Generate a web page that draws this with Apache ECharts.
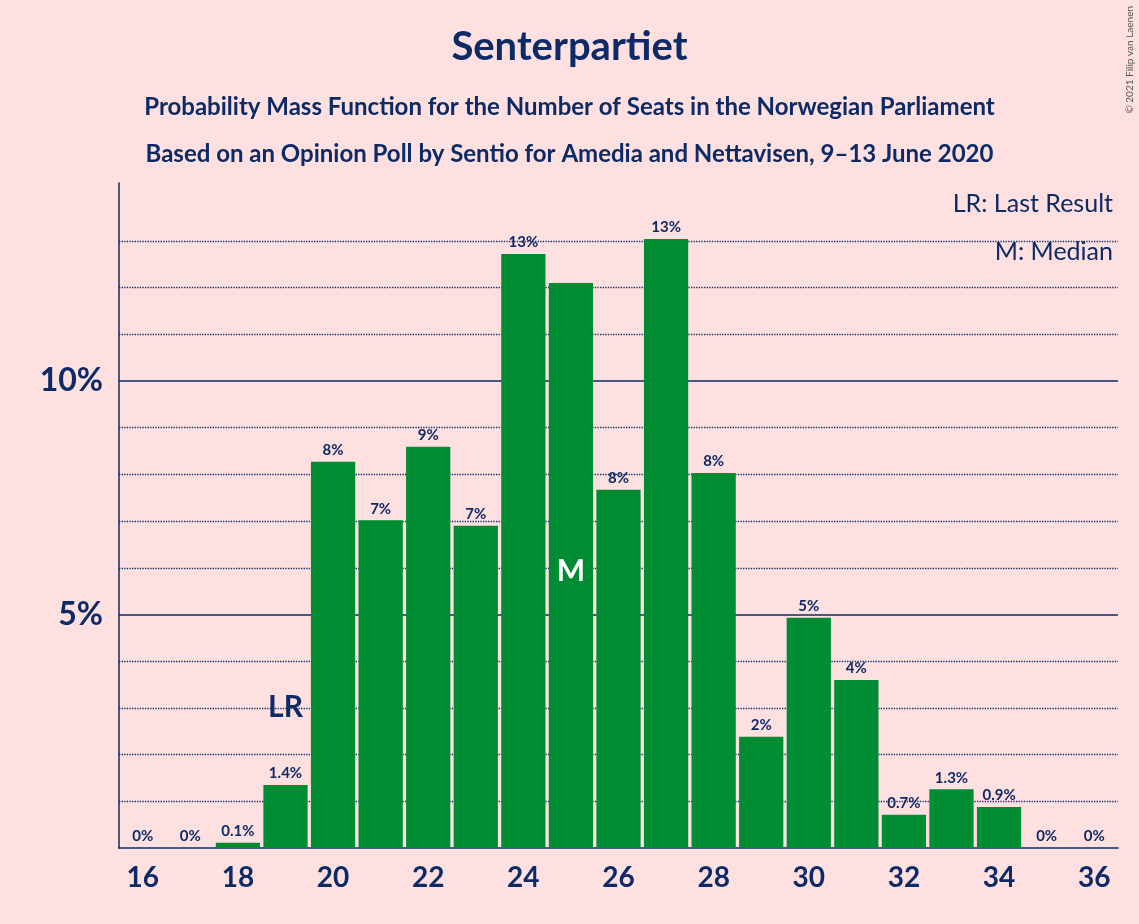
<!DOCTYPE html>
<html>
<head>
<meta charset="utf-8">
<script src="https://cdn.jsdelivr.net/npm/echarts@6/dist/echarts.min.js"></script>
<style>
  html, body { margin: 0; padding: 0; background: #ffe0e0; }
  #chart { width: 1139px; height: 924px; }
</style>
</head>
<body>
<div id="chart"></div>
<script>
// Seats and probabilities (%)
const seats = ["16","17","18","19","20","21","22","23","24","25","26","27","28","29","30","31","32","33","34","35","36"];
const probs = [0, 0, 0.11, 1.35, 8.27, 7.02, 8.59, 6.9, 12.72, 12.1, 7.67, 13.04, 8.03, 2.38, 4.93, 3.6, 0.71, 1.26, 0.88, 0, 0];
const gridLevels = [1, 2, 3, 4, 6, 7, 8, 9, 11, 12, 13];
const solidLevels = [5, 10];
const lastResult = "19";
const median = "25";

const navy = '#0c2a66';
const font = 'Lato, "DejaVu Sans", sans-serif';

function fmt(v) {
  if (v === 0) return '0%';
  if (v < 1.5) return v.toFixed(1) + '%';
  return Math.round(v) + '%';
}

const chart = echarts.init(document.getElementById('chart'));
const option = {
  backgroundColor: '#ffe0e0',
  textStyle: { fontFamily: font },
  title: [
    { text: 'Senterpartiet', left: 'center', top: 22,
      textStyle: { color: navy, fontSize: 40, fontWeight: 'bold', fontFamily: font } },
    { text: 'Probability Mass Function for the Number of Seats in the Norwegian Parliament', left: 'center', top: 90,
      textStyle: { color: navy, fontSize: 24, fontWeight: 'bold', fontFamily: font } },
    { text: 'Based on an Opinion Poll by Sentio for Amedia and Nettavisen, 9–13 June 2020', left: 'center', top: 137,
      textStyle: { color: navy, fontSize: 24, fontWeight: 'bold', fontFamily: font } },
    { text: 'LR: Last Result', right: 21, top: 186,
      textStyle: { color: navy, fontSize: 25, fontWeight: 'normal', fontFamily: font } },
    { text: 'M: Median', right: 21, top: 234,
      textStyle: { color: navy, fontSize: 25, fontWeight: 'normal', fontFamily: font } }
  ],
  graphic: [{
    type: 'text', right: 4, top: 6, rotation: Math.PI / 2,
    x: 1134, y: 4,
    style: { text: '© 2021 Filip van Laenen', fill: '#555', fontSize: 10, fontFamily: font }
  }],
  grid: { left: 119, right: 21, top: 183, bottom: 76 },
  xAxis: {
    type: 'category',
    data: seats,
    axisLine: { lineStyle: { color: navy, width: 1.5 } },
    axisTick: { show: false },
    axisLabel: { interval: 1, color: navy, fontSize: 28, fontWeight: 'bold', margin: 16 }
  },
  yAxis: {
    type: 'value',
    min: 0, max: 14.24, interval: 1,
    axisLine: { show: true, lineStyle: { color: navy, width: 1.5 } },
    axisTick: { show: false },
    splitLine: { show: false },
    axisLabel: {
      color: navy, fontSize: 32, fontWeight: 'bold', margin: 16,
      formatter: v => (v === 5 || v === 10) ? v + '%' : ''
    }
  },
  series: [{
    type: 'bar',
    data: probs.map((v, i) => ({
      value: v,
      label: seats[i] === median ? {
        show: true, position: 'insideTop', offset: [0, 272 - 283 + 280],
        formatter: 'M', color: '#fff', fontSize: 30, fontWeight: 'bold'
      } : undefined
    })),
    barCategoryGap: '7%',
    itemStyle: { color: '#008c33' },
    label: {
      show: true, position: 'top', distance: 4,
      color: navy, fontSize: 15, fontWeight: 'bold',
      formatter: p => fmt(p.value)
    },
    markLine: {
      silent: true, symbol: 'none', label: { show: false },
      z: 1,
      data: gridLevels.map(y => ({ yAxis: y, lineStyle: { type: 'dotted', color: navy, width: 1.3 } }))
        .concat(solidLevels.map(y => ({ yAxis: y, lineStyle: { type: 'solid', color: navy, width: 1.5 } })))
    },
    markPoint: {
      symbol: 'rect', symbolSize: 1, itemStyle: { color: 'transparent' },
      data: [{
        coord: [lastResult, probs[seats.indexOf(lastResult)]],
        label: { show: true, formatter: 'LR', color: navy, fontSize: 30, fontWeight: 'bold', offset: [0, -78] }
      }]
    }
  }]
};
chart.setOption(option);
</script>
</body>
</html>
